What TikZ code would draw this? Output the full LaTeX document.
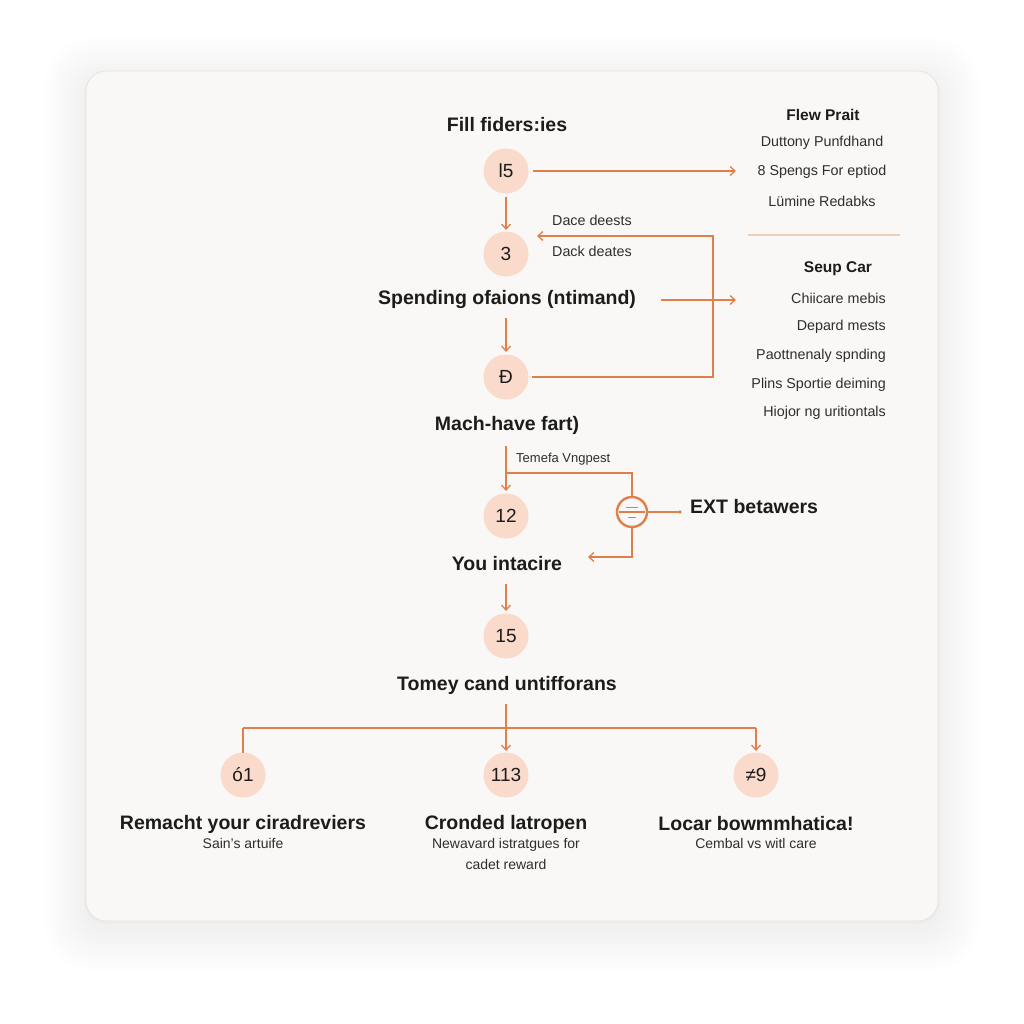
\documentclass[tikz,border=0pt]{standalone}
\usepackage{fontspec}
\setmainfont{Liberation Sans}
\usetikzlibrary{arrows.meta}
\definecolor{cardfill}{HTML}{F9F8F6}
\definecolor{cardedge}{HTML}{E6E4E1}
\definecolor{peach}{HTML}{FADACA}
\definecolor{orng}{HTML}{DF7F4A}
\definecolor{sepline}{HTML}{F1CDB8}
\definecolor{ink}{HTML}{1C1C1C}
\definecolor{soft}{HTML}{2E2E2E}
\tikzset{
  x=1pt,y=-1pt,
  numc/.style={circle,fill=peach,minimum size=45pt,inner sep=0pt,font=\fontsize{19}{19}\selectfont,text=ink},
  head/.style={font=\bfseries\fontsize{19.5}{21}\selectfont,text=ink,inner sep=0pt},
  small/.style={font=\fontsize{14.3}{16}\selectfont,text=soft,inner sep=0pt},
  subt/.style={font=\fontsize{14}{21}\selectfont,text=soft,inner sep=0pt,align=center},
  conn/.style={draw=orng,line width=1.3pt},
  arr/.style={conn,-{Straight Barb[length=5pt,width=9pt]}},
}
\begin{document}
\begin{tikzpicture}
\useasboundingbox (0,0) rectangle (1024,1024);
\fill[white] (0,0) rectangle (1024,1024);
% shadow
\foreach \i in {1,...,14}{
  \fill[black,opacity=0.0035,rounded corners=20+\i*2] (86-\i*3,71-\i*3+8) rectangle (938+\i*3,921+\i*3+8);
}
\fill[black,opacity=0.015,rounded corners=21] (84,72) rectangle (940,924);
\draw[cardedge,fill=cardfill,line width=0.8pt,rounded corners=20] (86,71) rectangle (938,921);

% main column
\node[head] (t1) at (507,125) {Fill fiders:ies};
\node[numc] (c1) at (506,171) {l5};
\coordinate (r1) at (736,171);
\draw[arr] (c1.east) ++(4,0) -- (r1);
\node[numc] (c2) at (506,254) {3};
\draw[arr] (506,197) -- (506,230);
\node[small,anchor=west] (d1) at (552,220) {Dace deests};
\node[small,anchor=west] (d2) at (552,251) {Dack deates};
\node[head] (t2) at (507,300) {Spending ofaions (ntimand)};
\coordinate (a2s) at (661,300);
\coordinate (a2e) at (736,300);
\draw[arr] (a2s) -- (a2e);
\node[numc] (c3) at (506,377) {Ð};
\draw[arr] (506,318) -- (506,352);
\coordinate (k1) at (713,377);
\coordinate (k2) at (713,236);
\draw[arr] (532,377) -- (k1) -- (k2) -- (537,236);
\node[head] (t3) at (507,425) {Mach-have fart)};
\node[numc] (c4) at (506,516) {12};
\draw[arr] (506,446) -- (506,491);
\node[small,anchor=west,font=\fontsize{13}{15}\selectfont] (tv) at (516,459) {Temefa Vngpest};
% icon
\node[circle,draw=orng,line width=2.4pt,minimum size=30pt,inner sep=0pt] (ic) at (632,512) {};
\draw[orng,line width=1.6pt] (619,512) -- (645,512);
\draw[orng,line width=1pt] (626,507) -- (638,507);
\draw[orng,line width=1pt] (628,517) -- (636,517);
\draw[conn] (506,473) -- (632,473) -- (ic.north);
\coordinate (ex) at (680,512);
\draw[conn] (ic.east) -- (ex);
\fill[orng] (ex) circle (1.8);
\node[head,anchor=west] (ext) at (690,507) {EXT betawers};
\coordinate (q1) at (632,557);
\draw[arr] (ic.south) -- (q1) -- (588,557);
\node[head] (t4) at (507,564) {You intacire};
\node[numc] (c5) at (506,636) {15};
\draw[arr] (506,584) -- (506,611);
\node[head] (t5) at (507,685) {Tomey cand untifforans};
% branch
\node[numc] (b1) at (243,775) {ó1};
\node[numc] (b2) at (506,775) {113};
\node[numc] (b3) at (756,775) {≠9};
\coordinate (h0) at (506,728);
\coordinate (hl) at (243,728);
\coordinate (hr) at (756,728);
\draw[arr] (506,704) -- (506,751);
\draw[conn] (hl) -- (hr);
\draw[conn] (hl) -- (243,753);
\draw[arr] (hr) -- (756,751);
\node[head] (bt1) at (243,824) {Remacht your ciradreviers};
\node[head] (bt2) at (506,824) {Cronded latropen};
\node[head] (bt3) at (756,824) {Locar bowmmhatica!};
\node[subt,anchor=north] (bs1) at (243,838) {Sain's artuife};
\node[subt,anchor=north] (bs2) at (506,838) {Newavard istratgues for\\cadet reward};
\node[subt,anchor=north] (bs3) at (756,838) {Cembal vs witl care};

% right panel
\node[head,font=\bfseries\fontsize{15.5}{17}\selectfont] (fp) at (823,115) {Flew Prait};
\node[small] (p1) at (822,143) {Duttony Punfdhand};
\node[small] (p2) at (822,172) {8 Spengs For eptiod};
\node[small] (p3) at (822,201) {Lümine Redabks};
\draw[sepline,line width=1.6pt] (748,235) -- (900,235);
\node[head,font=\bfseries\fontsize{15.5}{17}\selectfont] (sc) at (838,269) {Seup Car};
\node[small,anchor=east] (s1) at (886,298) {Chiicare mebis};
\node[small,anchor=east] (s2) at (886,327) {Depard mests};
\node[small,anchor=east] (s3) at (886,356) {Paottnenaly spnding};
\node[small,anchor=east] (s4) at (886,385) {Plins Sportie deiming};
\node[small,anchor=east] (s5) at (886,413) {Hiojor ng uritiontals};
\end{tikzpicture}
\end{document}
